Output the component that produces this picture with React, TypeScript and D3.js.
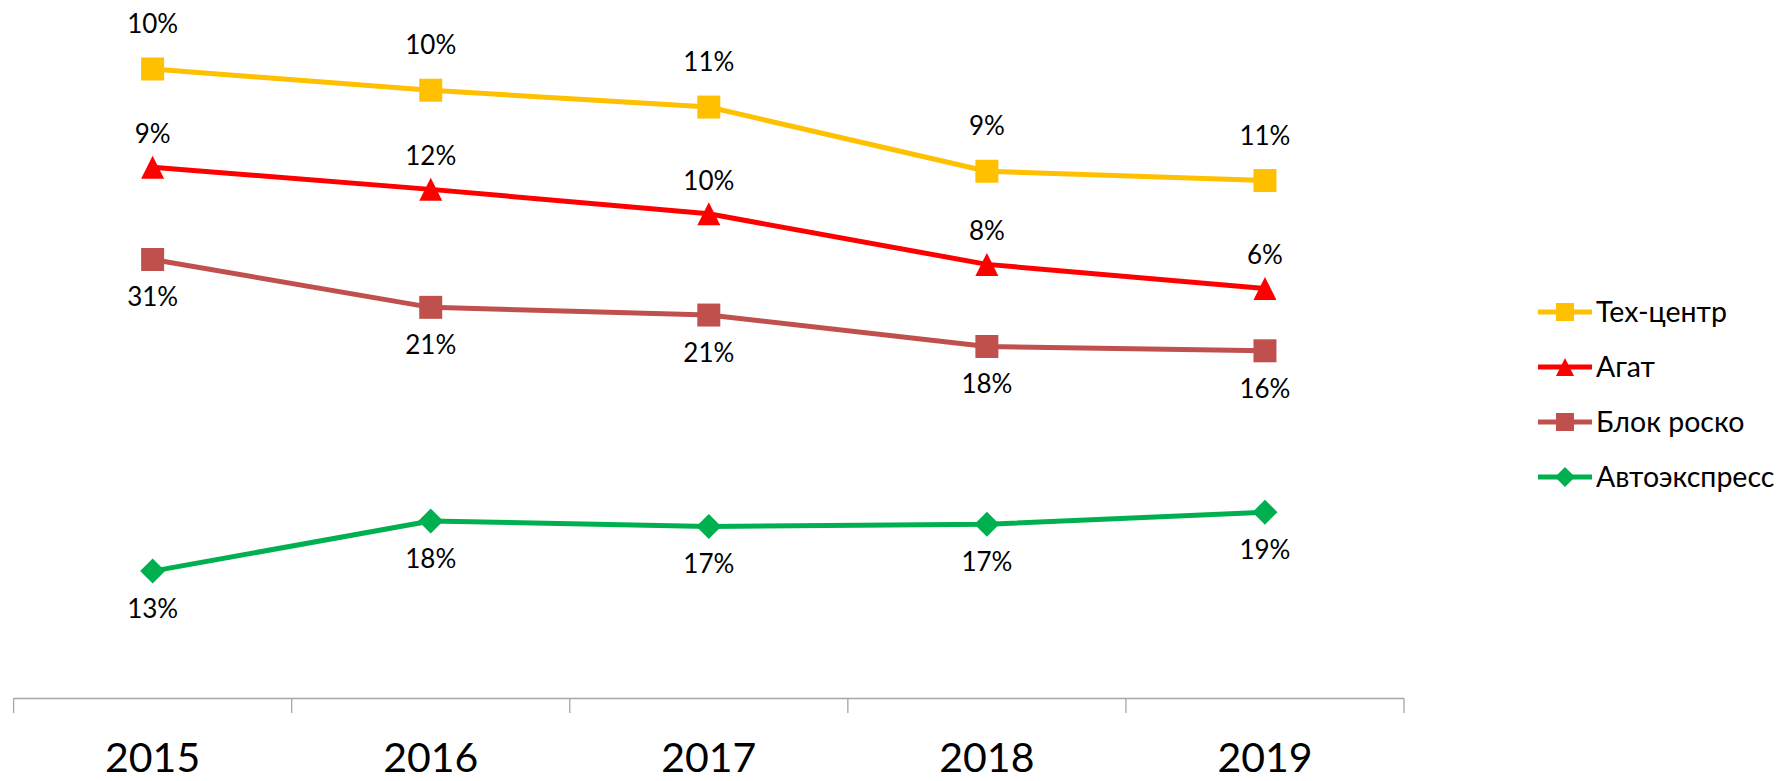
import React, { useEffect, useRef } from "react";
import * as d3 from "d3";

const years = ["2015", "2016", "2017", "2018", "2019"];
const seriesNames = ["Тех-центр", "Агат", "Блок роско", "Автоэкспресс"];
// values per series (shares); stacked line chart
const techCenter = [0.098, 0.099, 0.1066, 0.093, 0.1077];
const agat = [0.0922, 0.1178, 0.1011, 0.082, 0.0623];
const blokRosko = [0.3112, 0.2134, 0.2111, 0.1775, 0.1611];
const avtoexpress = [0.1277, 0.1777, 0.1723, 0.1745, 0.1866];
const colors = ["#FFC000", "#FF0000", "#C0504D", "#00B050"];
const markers = ["square", "triangle", "square", "diamond"];
const labelOffsets = [-36, -24, 47, 47];

const FONT = "Lato, 'Open Sans', sans-serif";

function markerPath(type: string, size: number): string {
  const h = size / 2;
  if (type === "square") return d3.symbol(d3.symbolSquare, size * size)()!;
  if (type === "triangle") return `M0,${-h}L${h},${h}L${-h},${h}Z`;
  return `M0,${-h}L${h},0L0,${h}L${-h},0Z`;
}

export default function App() {
  const ref = useRef<SVGSVGElement>(null);

  useEffect(() => {
    document.body.style.margin = "0";
    const svg = d3.select(ref.current);
    svg.selectAll("*").remove();

    const bottomUp = [avtoexpress, blokRosko, agat, techCenter];
    const bottomUpIdx = [3, 2, 1, 0];
    const cumulative: number[][] = [];
    let acc = years.map(() => 0);
    bottomUp.forEach((s) => {
      acc = acc.map((v, i) => v + s[i]);
      cumulative.push(acc.slice());
    });

    const x = d3.scaleBand<string>().domain(years).range([13.6, 1404]);
    const y = d3.scaleLinear().domain([0, 0.7]).range([699, -2]);
    const cx = (yr: string) => (x(yr) as number) + x.bandwidth() / 2;

    const axis = svg.append("g");
    axis.append("line")
      .attr("x1", x.range()[0]).attr("x2", x.range()[1])
      .attr("y1", 698.5).attr("y2", 698.5)
      .attr("stroke", "#A6A6A6").attr("stroke-width", 1.3);
    const tickXs = [...years.map((yr) => x(yr) as number), x.range()[1]];
    tickXs.forEach((tx) => {
      axis.append("line")
        .attr("x1", tx).attr("x2", tx).attr("y1", 698.5).attr("y2", 713)
        .attr("stroke", "#A6A6A6").attr("stroke-width", 1.3);
    });
    years.forEach((yr) => {
      axis.append("text")
        .attr("x", cx(yr)).attr("y", 772)
        .attr("text-anchor", "middle")
        .attr("font-family", FONT).attr("font-size", 41)
        .attr("fill", "#000")
        .text(yr);
    });

    const line = d3.line<number>().x((_, i) => cx(years[i])).y((d) => y(d));

    bottomUp.forEach((_, k) => {
      const si = bottomUpIdx[k];
      const vals = [techCenter, agat, blokRosko, avtoexpress][si];
      const cum = cumulative[k];
      const g = svg.append("g");
      g.append("path")
        .attr("d", line(cum)!)
        .attr("fill", "none")
        .attr("stroke", colors[si])
        .attr("stroke-width", 5)
        .attr("stroke-linejoin", "round");
      cum.forEach((v, i) => {
        g.append("path")
          .attr("d", markerPath(markers[si], markers[si] === "diamond" ? 25 : 23))
          .attr("transform", `translate(${cx(years[i])},${y(v)})`)
          .attr("fill", colors[si]);
        g.append("text")
          .attr("x", cx(years[i]))
          .attr("y", y(v) + labelOffsets[si])
          .attr("text-anchor", "middle")
          .attr("font-family", FONT).attr("font-size", 26)
          .attr("fill", "#000")
          .text(`${Math.round(vals[i] * 100)}%`);
      });
    });

    const legendYs = [312, 367, 422, 477];
    seriesNames.forEach((name, si) => {
      const g = svg.append("g").attr("transform", `translate(0,${legendYs[si]})`);
      g.append("line")
        .attr("x1", 1538).attr("x2", 1592).attr("y1", 0).attr("y2", 0)
        .attr("stroke", colors[si]).attr("stroke-width", 5);
      g.append("path")
        .attr("d", markerPath(markers[si], markers[si] === "diamond" ? 20 : 18))
        .attr("transform", "translate(1565,0)")
        .attr("fill", colors[si]);
      g.append("text")
        .attr("x", 1596).attr("y", 10)
        .attr("font-family", FONT).attr("font-size", 28.5)
        .attr("fill", "#000")
        .text(name);
    });
  }, []);

  return (
    <svg
      ref={ref}
      width={1781}
      height={781}
      style={{ position: "absolute", left: 0, top: 0, background: "#fff" }}
    />
  );
}
